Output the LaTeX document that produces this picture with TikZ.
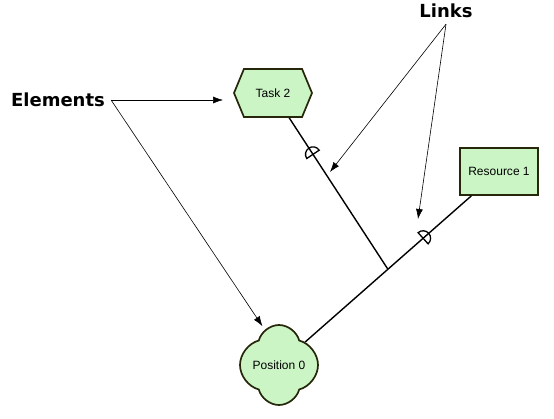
\documentclass[tikz,border=0pt]{standalone}
\usepackage{fontspec}
\setmainfont{Liberation Sans}
\newfontfamily\calloutfont{DejaVu Sans}
\usetikzlibrary{arrows.meta,calc,shapes.symbols}
\definecolor{ink}{HTML}{000000}
\definecolor{edge}{HTML}{26260A}
\definecolor{leaf}{HTML}{CCF5C6}

\begin{document}
\begin{tikzpicture}[
  x=1pt, y=-1pt,
  font=\fontsize{12}{14}\selectfont,
  text=ink,
  element/.style={
    draw=edge,
    line width=1.7pt,
    fill=leaf,
    inner sep=0pt,
    align=center
  },
  taskbox/.style={element, signal, signal to=west and east,
    signal pointer angle=135, minimum width=78pt, minimum height=48pt},
  resourcebox/.style={element, rectangle, minimum width=78pt, minimum height=47pt},
  positionbox/.style={element, cloud, cloud puffs=4, cloud puff arc=150,
    cloud ignores aspect, minimum width=78pt, minimum height=80pt},
  link/.style={line width=1.4pt, draw=ink},
  pointer/.style={-{Latex[length=10pt,width=7pt]}, line width=0.6pt, draw=ink},
  callout/.style={font=\calloutfont\fontsize{18}{20}\selectfont\bfseries, inner sep=6pt},
  port/.pic={\draw[line width=1.3pt, draw=ink] (0,-7.5) arc[start angle=-90, end angle=90, radius=7.5] -- cycle;}
]
\useasboundingbox (0,0) rectangle (554,418);

\node[taskbox] (task) at (273,93) {Task 2};
\node[resourcebox] (resource) at (499,171.5) {Resource 1};
\node[positionbox] (position) at (279,365) {Position 0};

\node[callout] (elements) at (58,100) {Elements};
\node[callout] (links) at (446,11) {Links};

\coordinate (junc) at ($(resource)!0.505!(position)$);
\draw[link] (resource) -- (position);
\draw[link] (task) -- (junc);

% half-round ports on the two links
\pic[rotate=123.7] at ($(task)!0.348!(junc)$) {port};
\pic[rotate=41.8] at ($(resource)!0.345!(position)$) {port};

\coordinate (tasktip) at (330,172);
\coordinate (restip) at (418,219);

\draw[pointer, shorten >=10pt] (elements.east) -- (elements.east -| task.west);
\draw[pointer, shorten >=4pt] (elements.east) -- (position.112);
\draw[pointer] (links.south) -- (tasktip);
\draw[pointer] (links.south) -- (restip);

\end{tikzpicture}
\end{document}
